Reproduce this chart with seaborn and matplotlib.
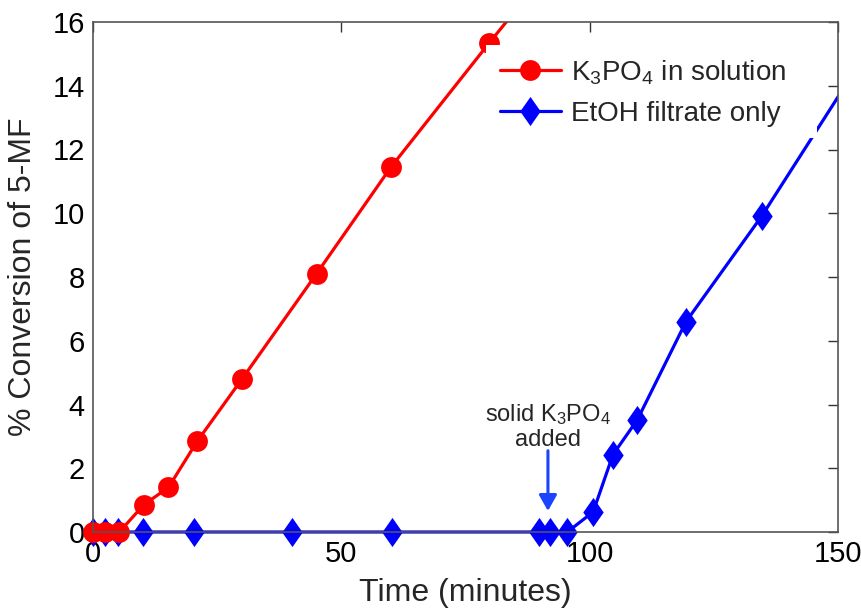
import matplotlib
matplotlib.use("Agg")
import matplotlib.pyplot as plt
import matplotlib.patches as mpatches
from matplotlib.path import Path
import seaborn as sns
import pandas as pd

# ---- data ----
red_time = [0, 2.5, 5.3, 10.2, 15.2, 21.0, 30.0, 45.0, 60.0, 79.8, 90.0]
red_conv = [0, 0, 0, 0.85, 1.40, 2.85, 4.80, 8.10, 11.45, 15.35, 17.3]
blue_time = [0, 2.5, 5.0, 10.0, 20.3, 40.0, 60.3, 89.7, 92.0, 95.5, 100.7, 104.7, 109.6, 119.4, 134.6, 165.0]
blue_conv = [0, 0, 0, 0, 0, 0, 0, 0, 0, 0, 0.63, 2.43, 3.52, 6.60, 9.90, 17.3]
red_label = "K$_3$PO$_4$ in solution"
blue_label = "EtOH filtrate only"
xlabel = "Time (minutes)"
ylabel = "% Conversion of 5-MF"
annot_text = "solid K$_3$PO$_4$\nadded"
annot_x = 91.6
xticks = [0, 50, 100, 150]
yticks = [0, 2, 4, 6, 8, 10, 12, 14, 16]

sns.set_theme(style="white")
plt.rcParams['font.family'] = ['Liberation Sans', 'DejaVu Sans']
plt.rcParams['mathtext.fontset'] = 'custom'
plt.rcParams['mathtext.rm'] = 'Liberation Sans'
plt.rcParams['mathtext.it'] = 'Liberation Sans:italic'
plt.rcParams['mathtext.bf'] = 'Liberation Sans:bold'

fig = plt.figure(figsize=(8.61, 6.13), dpi=100)
ax = fig.add_axes([93/861, (613-532)/613, (838-93)/861, (532-22)/613])

red = "#ff0000"
blue = "#0000ff"
diamond = Path([(0, 1), (0.7, 0), (0, -1), (-0.7, 0), (0, 1)],
               [Path.MOVETO, Path.LINETO, Path.LINETO, Path.LINETO, Path.CLOSEPOLY])

dfb = pd.DataFrame({"t": blue_time, "c": blue_conv})
dfr = pd.DataFrame({"t": red_time, "c": red_conv})

sns.lineplot(data=dfb, x="t", y="c", ax=ax, color=blue, linewidth=2.3,
             marker=diamond, markersize=21, markeredgecolor=blue,
             markerfacecolor=blue, markeredgewidth=0, label=blue_label,
             errorbar=None, sort=False, legend=False)
sns.lineplot(data=dfr, x="t", y="c", ax=ax, color=red, linewidth=2.3,
             marker="o", markersize=15, markeredgecolor=red,
             markerfacecolor=red, markeredgewidth=0, label=red_label,
             errorbar=None, sort=False, legend=False)

# clip only at top and right, so markers sitting on y=0 / x=0 stay whole
clip_rect = mpatches.Rectangle((-0.1, -0.1), 1.1, 1.1, transform=ax.transAxes,
                               facecolor="none", edgecolor="none")
for ln in ax.get_lines():
    ln.set_clip_path(clip_rect)

ax.set_xlim(0, 150)
ax.set_ylim(0, 16)
ax.set_xticks(xticks)
ax.set_yticks(yticks)
ax.tick_params(axis="both", which="both", direction="in", length=7, width=1.0,
               colors="#333333", labelcolor="black", labelsize=21,
               top=True, right=True, pad=6)
for s in ax.spines.values():
    s.set_color("#555555")
    s.set_linewidth(1.2)
ax.set_xlabel(xlabel, fontsize=23, labelpad=7)
ax.set_ylabel(ylabel, fontsize=23, labelpad=10)

# white legend background patch
bg = mpatches.Rectangle((0.528, 0.773), 0.444, 0.182, transform=ax.transAxes,
                        facecolor="white", edgecolor="none", zorder=3)
ax.add_patch(bg)
handles, labels = ax.get_legend_handles_labels()
order = [labels.index(red_label), labels.index(blue_label)]
leg = ax.legend([handles[i] for i in order], [labels[i] for i in order],
                loc="center left", bbox_to_anchor=(0.546, 0.862),
                frameon=False, fontsize=20, handlelength=2.2,
                handletextpad=0.35, labelspacing=0.5, borderpad=0,
                borderaxespad=0)
leg.set_zorder(4)

# annotation
ax.annotate("", xy=(annot_x, 0.66), xytext=(annot_x, 2.55),
            arrowprops=dict(arrowstyle="-|>,head_length=0.8,head_width=0.45",
                            color="#1a44ff", lw=2.2, shrinkA=0, shrinkB=0))
ax.text(annot_x, 3.3, annot_text, ha="center", va="center", fontsize=17,
        linespacing=1.1)

fig.savefig("out.png", dpi=100)
